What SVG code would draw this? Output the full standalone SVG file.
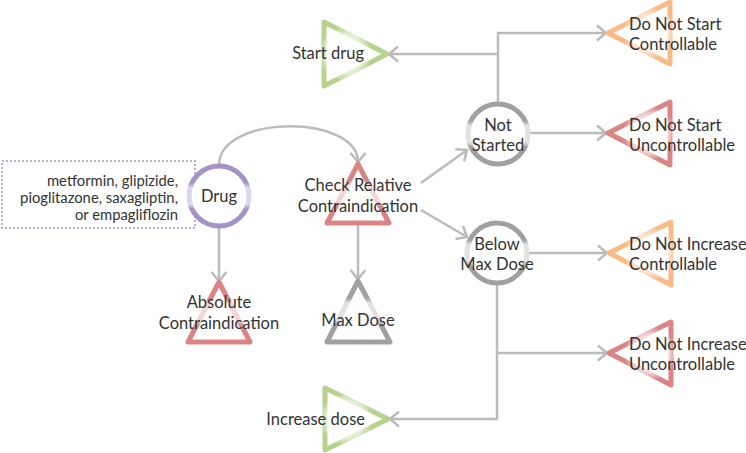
<svg xmlns="http://www.w3.org/2000/svg" width="746" height="453" viewBox="0 0 746 453">
<style>
text{font-family:Lato,"DejaVu Sans",sans-serif;font-size:16.5px;fill:#333}
.note{font-size:14.8px}
.c{text-anchor:middle}
.e{text-anchor:end}
.shape{fill:#fff;stroke-width:5;stroke-linejoin:round}
.ln{fill:none;stroke:#bbb;stroke-width:2.5}
</style>
<defs>
<linearGradient id="gP" x1="0" y1="0" x2="0" y2="1"><stop offset="0.28" stop-color="#a393c6"/><stop offset="0.36" stop-color="#ddd6ea"/><stop offset="0.64" stop-color="#ddd6ea"/><stop offset="0.72" stop-color="#a393c6"/></linearGradient>
<linearGradient id="gR" x1="0" y1="0" x2="0" y2="1"><stop offset="0.28" stop-color="#d98585"/><stop offset="0.36" stop-color="#f5d6d6"/><stop offset="0.64" stop-color="#f5d6d6"/><stop offset="0.72" stop-color="#d98585"/></linearGradient>
<linearGradient id="gY" x1="0" y1="0" x2="0" y2="1"><stop offset="0.28" stop-color="#a0a0a0"/><stop offset="0.36" stop-color="#e2e2e2"/><stop offset="0.64" stop-color="#e2e2e2"/><stop offset="0.72" stop-color="#a0a0a0"/></linearGradient>
<radialGradient id="gGr" cx="0.333" cy="0.5" r="0.5"><stop offset="0.6" stop-color="#e6f0d8"/><stop offset="0.85" stop-color="#b6d28c"/></radialGradient>
<radialGradient id="gOl" cx="0.667" cy="0.5" r="0.5"><stop offset="0.6" stop-color="#fde4cf"/><stop offset="0.85" stop-color="#f8bb86"/></radialGradient>
<radialGradient id="gRl" cx="0.667" cy="0.5" r="0.5"><stop offset="0.6" stop-color="#f5d6d6"/><stop offset="0.85" stop-color="#d98585"/></radialGradient>
<marker id="arr" markerUnits="userSpaceOnUse" viewBox="-12 -10 14 20" markerWidth="14" markerHeight="20" refX="0" refY="0" orient="auto"><path d="M-9,-7.5 L0,0 L-9,7.5" fill="none" stroke="#bbb" stroke-width="2.5"/></marker>
</defs>
<g id="connectors">
<path class="ln" d="M219,227 V281" marker-end="url(#arr)"/>
<path class="ln" d="M219,165 C219,114 358,114 358,162" marker-end="url(#arr)"/>
<path class="ln" d="M358,225 V279" marker-end="url(#arr)"/>
<path class="ln" d="M421,183 L467,150" marker-end="url(#arr)"/>
<path class="ln" d="M421,210 L467,237" marker-end="url(#arr)"/>
<path class="ln" d="M498,103 V33 H606" marker-end="url(#arr)"/>
<path class="ln" d="M498,54 H389" marker-end="url(#arr)"/>
<path class="ln" d="M530,133 H606" marker-end="url(#arr)"/>
<path class="ln" d="M528,253 H607" marker-end="url(#arr)"/>
<path class="ln" d="M497,285 V419 H390" marker-end="url(#arr)"/>
<path class="ln" d="M497,353 H607" marker-end="url(#arr)"/>
</g>
<g id="note">
<rect x="2" y="161" width="193" height="67" fill="none" stroke="#a393c6" stroke-width="1.5" stroke-dasharray="2,2"/>
<text class="note e" x="178" y="186">metformin, glipizide,</text>
<text class="note e" x="178" y="203">pioglitazone, saxagliptin,</text>
<text class="note e" x="178" y="220">or empagliflozin</text>
</g>
<g id="drug">
<circle class="shape" cx="219" cy="196" r="30" stroke="url(#gP)"/>
<text class="c" x="219" y="202">Drug</text>
</g>
<g id="absolute">
<path class="shape" d="M219,282 L250,342 L188,342 Z" stroke="url(#gR)"/>
<text class="c" x="219" y="308">Absolute</text>
<text class="c" x="219" y="329">Contraindication</text>
</g>
<g id="check">
<path class="shape" d="M358,164 L389,223 L327,223 Z" stroke="url(#gR)"/>
<text class="c" x="358" y="191">Check Relative</text>
<text class="c" x="358" y="212">Contraindication</text>
</g>
<g id="maxdose">
<path class="shape" d="M358,281 L390,342 L327,342 Z" stroke="url(#gY)"/>
<text class="c" x="358" y="326">Max Dose</text>
</g>
<g id="notstarted">
<circle class="shape" cx="498" cy="134" r="30" stroke="url(#gY)"/>
<text class="c" x="498" y="131">Not</text>
<text class="c" x="498" y="151">Started</text>
</g>
<g id="belowmax">
<circle class="shape" cx="497" cy="253" r="30" stroke="url(#gY)"/>
<text class="c" x="497" y="250">Below</text>
<text class="c" x="497" y="270">Max Dose</text>
</g>
<g id="startdrug">
<path class="shape" d="M324,22 L387,54 L324,86 Z" stroke="url(#gGr)"/>
<text class="e" x="364" y="59">Start drug</text>
</g>
<g id="increasedose">
<path class="shape" d="M325,388 L388,419 L325,450 Z" stroke="url(#gGr)"/>
<text class="e" x="365" y="425">Increase dose</text>
</g>
<g id="dnsc">
<path class="shape" d="M608,33 L670,2 L670,64 Z" stroke="url(#gOl)"/>
<text x="629" y="30">Do Not Start</text>
<text x="629" y="50">Controllable</text>
</g>
<g id="dnsu">
<path class="shape" d="M608,133 L670,102 L670,165 Z" stroke="url(#gRl)"/>
<text x="629" y="131">Do Not Start</text>
<text x="629" y="151">Uncontrollable</text>
</g>
<g id="dnic">
<path class="shape" d="M609,253 L671,222 L671,285 Z" stroke="url(#gOl)"/>
<text x="629" y="250">Do Not Increase</text>
<text x="629" y="270">Controllable</text>
</g>
<g id="dniu">
<path class="shape" d="M609,353 L671,322 L671,385 Z" stroke="url(#gRl)"/>
<text x="629" y="350">Do Not Increase</text>
<text x="629" y="370">Uncontrollable</text>
</g>
</svg>
